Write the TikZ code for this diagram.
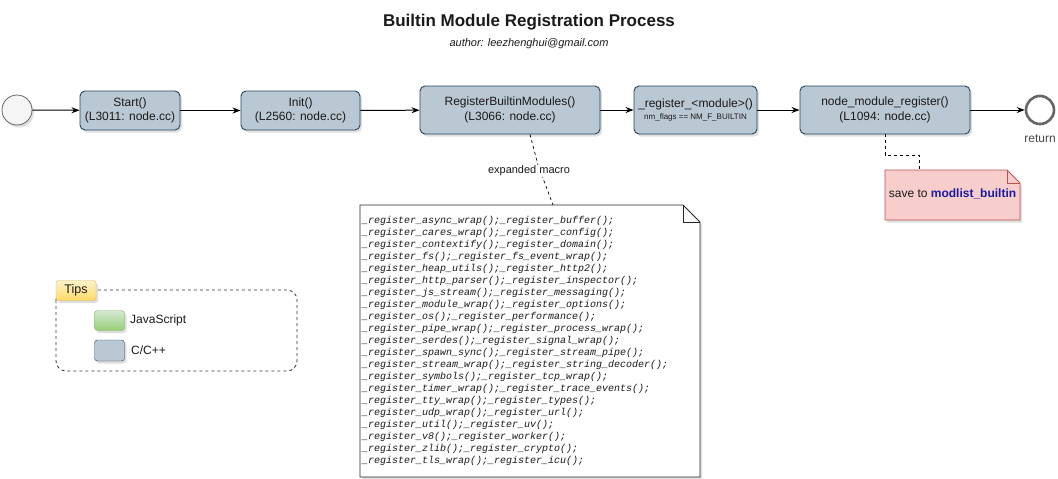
\documentclass[tikz,border=0pt]{standalone}
\usepackage{fontspec}
\setmainfont{Liberation Sans}
\setmonofont{Liberation Mono}
\usetikzlibrary{arrows.meta,shadows}
\definecolor{fnfill}{HTML}{BAC8D3}
\definecolor{fnline}{HTML}{23445D}
\definecolor{txt}{HTML}{1A1A1A}
\definecolor{pinkfill}{HTML}{F8CECC}
\definecolor{pinkline}{HTML}{B85450}
\definecolor{tipfill}{HTML}{FFF2CC}
\definecolor{tipfill2}{HTML}{FFD966}
\definecolor{tipline}{HTML}{D6B656}
\definecolor{jsfill}{HTML}{D5E8D4}
\definecolor{jsfill2}{HTML}{97D077}
\definecolor{jsline}{HTML}{82B366}
\definecolor{circline}{HTML}{666666}
\definecolor{modblue}{HTML}{1A1AA6}
\newcommand{\fs}[1]{\fontsize{#1}{#1}\selectfont}
\begin{document}
\begin{tikzpicture}[x=1pt,y=-1pt,
  shadowed/.style={drop shadow={shadow xshift=2pt,shadow yshift=-2.5pt,opacity=0.25}},
  fnbox/.style={draw=fnline,fill=fnfill,line width=0.9pt,rounded corners=5pt,shadowed,
    align=center,text=txt,font=\fontsize{12}{14.5}\selectfont,inner sep=2pt},
  conn/.style={draw=black,line width=1pt,-{Stealth[length=8pt,width=6pt]}},
  lbl/.style={text=txt,inner sep=1pt}
]
\useasboundingbox (0,0) rectangle (1058,479);
\fill[white] (0,0) rectangle (1058,479);

% title
\node[lbl,font=\bfseries\fs{17}] (title) at (529,22) {Builtin Module Registration Process};
\node[lbl,font=\itshape\fs{11}] (author) at (529,44) {author: leezhenghui@gmail.com};

% start / end
\node[circle,draw=circline,fill=white!96!black,line width=0.8pt,minimum size=30pt,inner sep=0,shadowed] (begin) at (17,110) {};
\node[circle,draw=circline,fill=white,line width=2.6pt,minimum size=28pt,inner sep=0] (finish) at (1040,110) {};
\node[lbl,font=\fs{12},text=txt!80!white] (retlbl) at (1040,139) {return};

% function boxes
\node[fnbox,minimum width=100pt,minimum height=39pt] (start) at (130,110.5) {Start()\\(L3011: node.cc)};
\node[fnbox,minimum width=119pt,minimum height=39pt] (init) at (300.5,110.5) {Init()\\(L2560: node.cc)};
\node[fnbox,minimum width=180pt,minimum height=48pt] (rbm) at (510,110) {RegisterBuiltinModules()\\(L3066: node.cc)};
\node[fnbox,minimum width=123pt,minimum height=48pt] (reg) at (695.5,110) {\_register\_<module>()\\[-2pt]{\fs{8}nm\_flags == NM\_F\_BUILTIN}};
\node[fnbox,minimum width=170pt,minimum height=48pt] (nmr) at (885,110) {node\_module\_register()\\(L1094: node.cc)};

% connectors
\draw[conn] (begin) -- (start);
\draw[conn] (start) -- (init);
\draw[conn] (init) -- (rbm);
\draw[conn] (rbm) -- (reg);
\draw[conn] (reg) -- (nmr);
\draw[conn] (nmr) -- (finish);

% macro note
\coordinate (notetop) at (553,205);
\filldraw[draw=black!85,fill=white,line width=0.8pt,shadowed]
  (360,205) -- (683,205) -- (700,222) -- (700,477) -- (360,477) -- cycle;
\draw[black!85,line width=0.8pt] (683,205) -- (683,222) -- (700,222);
\node[anchor=north west,inner sep=0,align=left,text=txt,
  font=\ttfamily\itshape\fontsize{10}{12}\selectfont] (macro) at (362,216) {%
\_register\_async\_wrap();\_register\_buffer();\\
\_register\_cares\_wrap();\_register\_config();\\
\_register\_contextify();\_register\_domain();\\
\_register\_fs();\_register\_fs\_event\_wrap();\\
\_register\_heap\_utils();\_register\_http2();\\
\_register\_http\_parser();\_register\_inspector();\\
\_register\_js\_stream();\_register\_messaging();\\
\_register\_module\_wrap();\_register\_options();\\
\_register\_os();\_register\_performance();\\
\_register\_pipe\_wrap();\_register\_process\_wrap();\\
\_register\_serdes();\_register\_signal\_wrap();\\
\_register\_spawn\_sync();\_register\_stream\_pipe();\\
\_register\_stream\_wrap();\_register\_string\_decoder();\\
\_register\_symbols();\_register\_tcp\_wrap();\\
\_register\_timer\_wrap();\_register\_trace\_events();\\
\_register\_tty\_wrap();\_register\_types();\\
\_register\_udp\_wrap();\_register\_url();\\
\_register\_util();\_register\_uv();\\
\_register\_v8();\_register\_worker();\\
\_register\_zlib();\_register\_crypto();\\
\_register\_tls\_wrap();\_register\_icu();};
\draw[dashed,line width=0.7pt] ([xshift=20pt]rbm.south) -- (538,165) -- (notetop);
\node[lbl,fill=white,font=\fs{11}] (exlbl) at (529,171) {expanded macro};

% save note
\coordinate (savetop) at (919,170);
\filldraw[draw=pinkline,fill=pinkfill,line width=0.8pt,shadowed]
  (885,170) -- (1007,170) -- (1020,183) -- (1020,220) -- (885,220) -- cycle;
\draw[pinkline,line width=0.8pt] (1007,170) -- (1007,183) -- (1020,183);
\node[lbl,font=\fs{12}] (savetxt) at (952.5,194) {save to {\bfseries\color{modblue}modlist\_builtin}};
\draw[dashed,line width=0.7pt] ([xshift=0pt]nmr.south) -- (885,155) -- (919,155) -- (savetop);

% tips legend
\draw[dashed,line width=0.8pt,rounded corners=10pt,black!80] (56,290) rectangle (297,371);
\node[draw=tipline,top color=tipfill,bottom color=tipfill2,rounded corners=2.5pt,minimum width=40pt,
  minimum height=20pt,inner sep=0,font=\fs{12.5},text=txt,shadowed] (tips) at (76,290.5) {Tips};
\node[draw=jsline,top color=jsfill,bottom color=jsfill2,rounded corners=3pt,minimum width=30pt,
  minimum height=20pt,inner sep=0,shadowed] (jsbox) at (109.5,320.5) {};
\node[anchor=west,lbl,font=\fs{12}] (jslbl) at (129,320.5) {JavaScript};
\node[draw=fnline,fill=fnfill,rounded corners=3pt,minimum width=30pt,
  minimum height=21pt,inner sep=0,shadowed] (cbox) at (109.5,350.5) {};
\node[anchor=west,lbl,font=\fs{12}] (clbl) at (130,350.5) {C/C++};
\end{tikzpicture}
\end{document}
